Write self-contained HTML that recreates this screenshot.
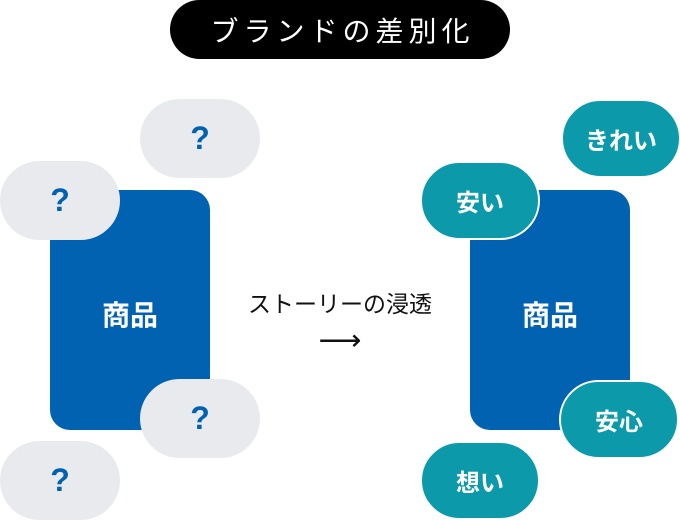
<!DOCTYPE html>
<html><head><meta charset="utf-8"><style>
body{margin:0;width:680px;height:520px;background:#fff;position:relative;overflow:hidden;font-family:"Liberation Sans","Noto Sans CJK JP",sans-serif}
.a{position:absolute;display:flex;align-items:center;justify-content:center;box-sizing:border-box}
.t{left:170px;top:0;width:340px;height:59px;border-radius:30px;background:#000;color:#fff;font-size:28px;letter-spacing:5px;padding-left:5px}
.r{width:160px;height:240px;top:190px;border-radius:20px;background:#0062b1;color:#fff;font-size:28px;font-weight:bold;padding-top:8px}
.g{width:120px;height:79px;border-radius:40px;background:#e8eaed;color:#0062b1;font-size:32px;font-weight:bold}
.c{width:120px;height:79px;border-radius:40px;background:#0c9aab;color:#fff;font-size:24px;font-weight:bold;border:2px solid #fff}
</style></head><body>
<div class="a t">ブランドの差別化</div>
<div class="a r" style="left:50px">商品</div>
<div class="a g" style="left:140px;top:99px">?</div>
<div class="a g" style="left:0;top:161px">?</div>
<div class="a g" style="left:140px;top:379px">?</div>
<div class="a g" style="left:0;top:441px">?</div>
<div class="a" style="left:220px;top:284px;width:240px;height:36px;font-size:23px;color:#111">ストーリーの浸透</div>
<div class="a" style="left:300px;top:322px;width:80px;height:36px;font-size:30px;color:#111">⟶</div>
<div class="a r" style="left:470px">商品</div>
<div class="a c" style="left:561px;top:99px">きれい</div>
<div class="a c" style="left:420px;top:161px">安い</div>
<div class="a c" style="left:559px;top:380px">安心</div>
<div class="a c" style="left:420px;top:441px">想い</div>
</body></html>
